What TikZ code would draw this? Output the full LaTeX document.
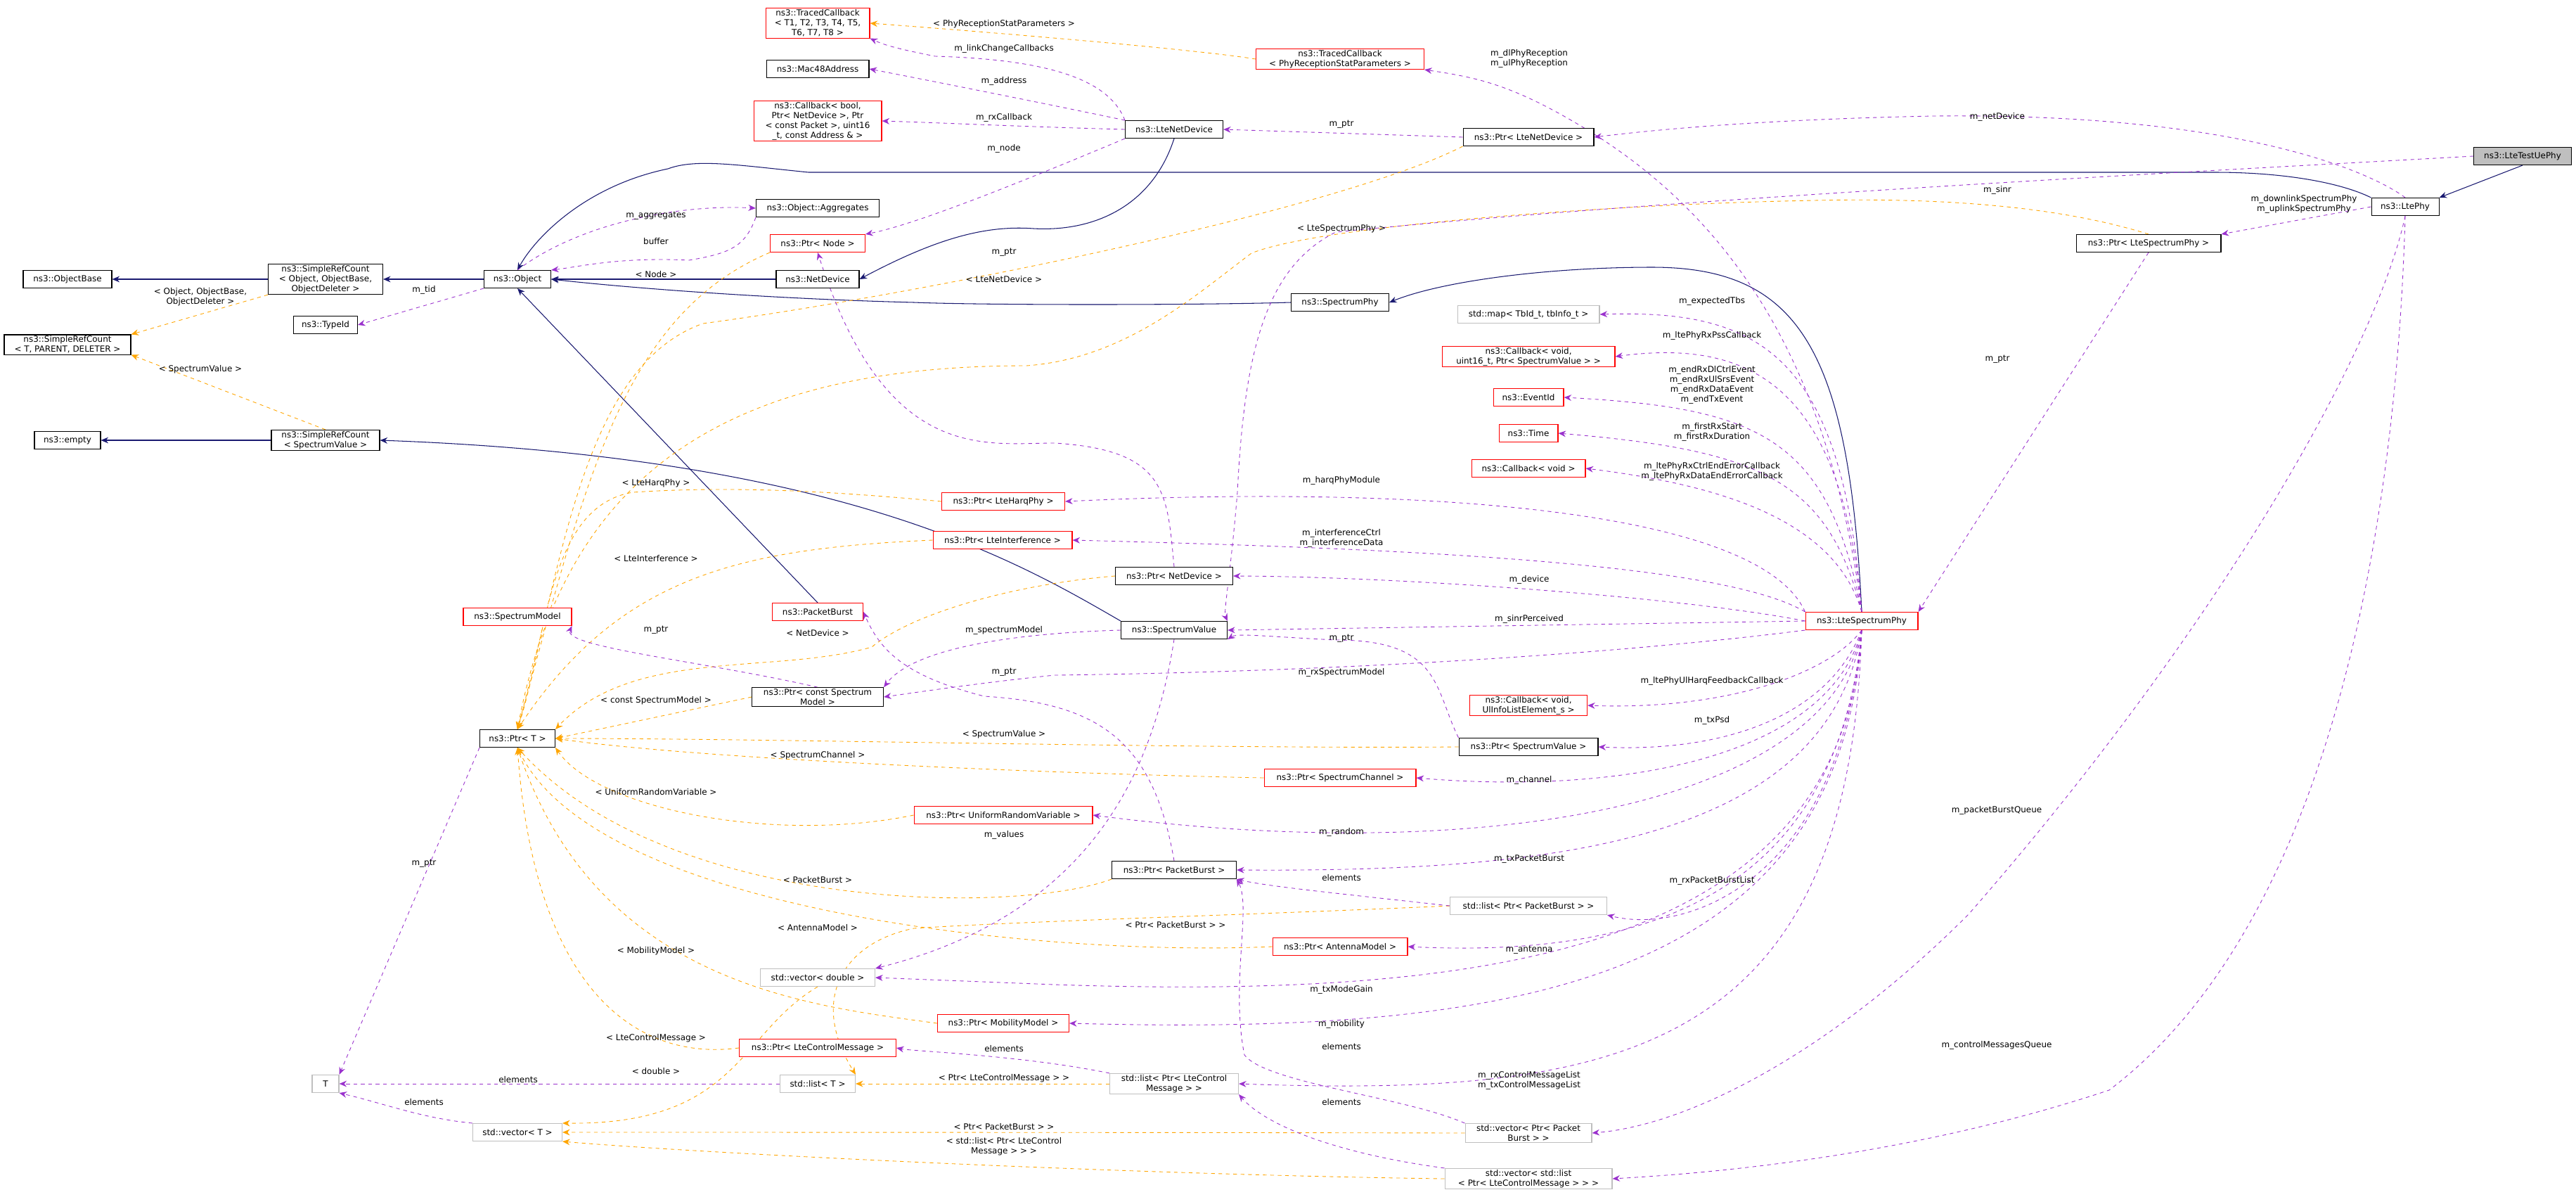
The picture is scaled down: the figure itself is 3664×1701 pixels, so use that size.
\documentclass[tikz,border=0pt]{standalone}
\usepackage{fontspec}
\setmainfont{DejaVu Sans}
\usetikzlibrary{arrows.meta,backgrounds}
\definecolor{navy}{HTML}{191970}
\definecolor{purp}{HTML}{9A32CD}
\definecolor{orng}{HTML}{FFA500}
\tikzset{
 bx/.style={draw=black,fill=white,font=\fontsize{6.8}{8}\selectfont,align=center,inner sep=1pt,minimum height=0.5cm,line width=0.6pt},
 rbx/.style={bx,draw=red},
 gbx/.style={bx,draw=black!25},
 lbl/.style={font=\fontsize{6.8}{8}\selectfont,align=center,inner sep=0pt},
 inh/.style={draw=navy,line width=0.6pt,-{Stealth[length=6pt,width=5pt]}},
 use/.style={draw=purp,dashed,line width=0.5pt,-{Stealth[length=6pt,width=5pt]}},
 tpl/.style={draw=orng,dashed,line width=0.5pt,-{Stealth[length=6pt,width=5pt]}},
}
\begin{document}
\begin{tikzpicture}[x=0.02cm,y=-0.02cm]
\useasboundingbox (0,0) rectangle (3664,1701);
% nodes
\node[rbx,minimum width=2.96cm] (ttc) at (1163,33) {ns3::TracedCallback\\< T1, T2, T3, T4, T5,\\ T6, T7, T8 >};
\node[bx,minimum width=2.92cm] (mac) at (1163,98) {ns3::Mac48Address};
\node[rbx,minimum width=3.64cm] (cbb) at (1163,172) {ns3::Callback< bool,\\ Ptr< NetDevice >, Ptr\\< const Packet >, uint16\\\_t, const Address \& >};
\node[bx,minimum width=3.5cm] (agg) at (1163,296) {ns3::Object::Aggregates};
\node[rbx,minimum width=2.7cm] (pnode) at (1163,346) {ns3::Ptr< Node >};
\node[bx,minimum width=2.36cm] (netdev) at (1163,397) {ns3::NetDevice};
\node[bx,minimum width=1.9cm] (obj) at (736,397) {ns3::Object};
\node[bx,minimum width=3.26cm] (src1) at (463,397) {ns3::SimpleRefCount\\< Object, ObjectBase,\\ ObjectDeleter >};
\node[bx,minimum width=2.52cm] (objbase) at (96,397) {ns3::ObjectBase};
\node[bx,minimum width=1.82cm] (typeid) at (463,462) {ns3::TypeId};
\node[bx,minimum width=3.6cm] (srct) at (96,490) {ns3::SimpleRefCount\\< T, PARENT, DELETER >};
\node[bx,minimum width=3.08cm] (srcsv) at (463,626) {ns3::SimpleRefCount\\< SpectrumValue >};
\node[bx,minimum width=1.88cm] (empty) at (96,626) {ns3::empty};
\node[rbx,minimum width=4.78cm] (tcprs) at (1906,84) {ns3::TracedCallback\\< PhyReceptionStatParameters >};
\node[bx,minimum width=2.78cm] (ltend) at (1670,184) {ns3::LteNetDevice};
\node[bx,minimum width=3.72cm] (pltend) at (2174,195) {ns3::Ptr< LteNetDevice >};
\node[bx,minimum width=1.92cm] (ltephy) at (3421,294) {ns3::LtePhy};
\node[bx,fill=black!25,minimum width=2.78cm] (testue) at (3588,222) {ns3::LteTestUePhy};
\node[bx,minimum width=4.12cm] (plsp) at (3056,346) {ns3::Ptr< LteSpectrumPhy >};
\node[bx,minimum width=2.78cm] (sphy) at (1906,430) {ns3::SpectrumPhy};
\node[gbx,minimum width=4.04cm] (map) at (2174,447) {std::map< TbId\_t, tbInfo\_t >};
\node[rbx,minimum width=4.92cm] (cbv) at (2174,507) {ns3::Callback< void,\\ uint16\_t, Ptr< SpectrumValue > >};
\node[rbx,minimum width=2cm] (evid) at (2174,565) {ns3::EventId};
\node[rbx,minimum width=1.68cm] (time) at (2174,616) {ns3::Time};
\node[rbx,minimum width=3.24cm] (cbvoid) at (2174,666) {ns3::Callback< void >};
\node[rbx,minimum width=3.5cm] (pharq) at (1427,713) {ns3::Ptr< LteHarqPhy >};
\node[rbx,minimum width=3.96cm] (pinterf) at (1426,768) {ns3::Ptr< LteInterference >};
\node[bx,minimum width=3.34cm] (pnd) at (1670,819) {ns3::Ptr< NetDevice >};
\node[bx,minimum width=3.02cm] (sv) at (1670,896) {ns3::SpectrumValue};
\node[rbx,minimum width=3.2cm] (lsp) at (2648,883) {ns3::LteSpectrumPhy};
\node[rbx,minimum width=3.08cm] (smodel) at (736,877) {ns3::SpectrumModel};
\node[rbx,minimum width=2.58cm] (pburst) at (1163,870) {ns3::PacketBurst};
\node[bx,minimum width=3.74cm] (pcsm) at (1163,991) {ns3::Ptr< const Spectrum\\ Model >};
\node[bx,minimum width=2.14cm] (ptrt) at (736,1050) {ns3::Ptr< T >};
\node[rbx,minimum width=3.34cm] (cbul) at (2174,1003) {ns3::Callback< void,\\ UlInfoListElement\_s >};
\node[bx,minimum width=3.96cm] (psv) at (2174,1062) {ns3::Ptr< SpectrumValue >};
\node[rbx,minimum width=4.32cm] (pschan) at (1906,1106) {ns3::Ptr< SpectrumChannel >};
\node[rbx,minimum width=5.08cm] (purv) at (1427,1159) {ns3::Ptr< UniformRandomVariable >};
\node[bx,minimum width=3.54cm] (ppb) at (1670,1237) {ns3::Ptr< PacketBurst >};
\node[gbx,minimum width=4.46cm] (lppb) at (2174,1288) {std::list< Ptr< PacketBurst > >};
\node[rbx,minimum width=3.84cm] (pant) at (1906,1346) {ns3::Ptr< AntennaModel >};
\node[gbx,minimum width=3.26cm] (vdbl) at (1163,1390) {std::vector< double >};
\node[rbx,minimum width=3.74cm] (pmob) at (1427,1455) {ns3::Ptr< MobilityModel >};
\node[rbx,minimum width=4.46cm] (plcm) at (1163,1490) {ns3::Ptr< LteControlMessage >};
\node[gbx,minimum width=3.66cm] (lplcm) at (1670,1541) {std::list< Ptr< LteControl\\ Message > >};
\node[gbx,minimum width=0.76cm] (T) at (463,1541) {T};
\node[gbx,minimum width=2.14cm] (listt) at (1163,1541) {std::list< T >};
\node[gbx,minimum width=3.6cm] (vppb) at (2174,1611) {std::vector< Ptr< Packet\\ Burst > >};
\node[gbx,minimum width=2.54cm] (vect) at (736,1610) {std::vector< T >};
\node[gbx,minimum width=4.76cm] (vlist) at (2174,1676) {std::vector< std::list\\< Ptr< LteControlMessage > > >};

\begin{pgfonlayer}{background}
% inheritance
\draw[inh] (src1) -- (objbase);
\draw[inh] (obj) -- (src1);
\draw[inh] (netdev) -- (obj);
\draw[inh] (ltend.south) .. controls (1640,290) and (1560,330) .. (1470,325) .. controls (1400,320) and (1330,340) .. (netdev.east);
\draw[inh] (ltephy.north west) .. controls (3330,260) and (3250,245) .. (3150,245) -- (1150,245) .. controls (1050,235) and (990,225) .. (950,240) .. controls (830,265) and (760,340) .. (obj.north);
\draw[inh] (sphy.west) .. controls (1700,434) and (1400,434) .. (1300,430) .. controls (1100,425) and (900,410) .. (obj.east);
\draw[inh] (lsp.north) .. controls (2630,500) and (2560,380) .. (2350,380) .. controls (2200,380) and (2050,400) .. (sphy.east);
\draw[inh] (pburst.north) -- (obj.south);
\draw[inh] (sv.north west) .. controls (1450,800) and (1200,650) .. (srcsv.east);
\draw[inh] (srcsv) -- (empty);
\draw[inh] (testue.south) -- (ltephy.north east);

% template edges
\draw[tpl] (src1.south west) -- (srct.north east);
\draw[tpl] (srcsv.north) -- (srct.south east);
\draw[tpl] (tcprs.west) .. controls (1700,70) and (1400,45) .. (ttc.east);
\draw[tpl] (pnode.south west) .. controls (880,450) and (830,700) .. (ptrt.north);
\draw[tpl] (pltend.south west) .. controls (1900,300) and (1300,420) .. (1000,460) .. controls (830,520) and (800,800) .. (ptrt.north);
\draw[tpl] (plsp.north) .. controls (2950,300) and (2800,280) .. (2580,285) .. controls (2300,290) and (1880,320) .. (1780,360) .. controls (1700,420) and (1600,510) .. (1460,520) .. controls (1000,520) and (800,700) .. (ptrt.north);
\draw[tpl] (pharq.west) .. controls (1200,700) and (1050,690) .. (900,700) .. controls (780,720) and (780,900) .. (ptrt.north);
\draw[tpl] (pinterf.west) .. controls (1050,780) and (880,820) .. (ptrt.north);
\draw[tpl] (pnd.west) .. controls (1450,830) and (1300,870) .. (1240,920) .. controls (1100,960) and (900,920) .. (ptrt.north east);
\draw[tpl] (pcsm.west) -- (ptrt.east);
\draw[tpl] (psv.west) .. controls (1700,1065) and (1100,1050) .. (ptrt.east);
\draw[tpl] (pschan.west) .. controls (1500,1100) and (1000,1080) .. (ptrt.east);
\draw[tpl] (purv.west) .. controls (1100,1200) and (850,1150) .. (ptrt.south east);
\draw[tpl] (ppb.south west) .. controls (1450,1300) and (950,1300) .. (ptrt.south);
\draw[tpl] (pant.west) .. controls (1500,1360) and (850,1300) .. (ptrt.south);
\draw[tpl] (pmob.west) .. controls (1150,1430) and (850,1400) .. (ptrt.south);
\draw[tpl] (plcm.west) .. controls (900,1510) and (760,1400) .. (ptrt.south);
\draw[tpl] (vdbl.south) .. controls (1050,1470) and (1050,1600) .. (vect.north east);
\draw[tpl] (lppb.west) .. controls (1800,1300) and (1450,1310) .. (1300,1320) .. controls (1200,1340) and (1150,1420) .. (listt.north east);
\draw[tpl] (lplcm.west) -- (listt.east);
\draw[tpl] (vppb.west) .. controls (1600,1610) and (1000,1610) .. (vect.east);
\draw[tpl] (vlist.west) .. controls (1600,1670) and (1000,1640) .. (vect.south east);

% usage edges
\draw[use] (ltend.north west) .. controls (1580,120) and (1510,85) .. (1330,80) .. controls (1280,70) and (1260,65) .. (ttc.south east);
\draw[use] (ltend.north west) .. controls (1500,150) and (1350,120) .. (mac.east);
\draw[use] (ltend.west) .. controls (1450,180) and (1350,175) .. (cbb.east);
\draw[use] (ltend.south west) .. controls (1450,260) and (1300,320) .. (pnode.north east);
\draw[use] (obj.north) .. controls (820,320) and (960,290) .. (agg.west);
\draw[use] (agg.south west) .. controls (1060,350) and (1040,360) .. (980,370) .. controls (880,365) and (820,380) .. (obj.north east);
\draw[use] (obj.south west) -- (typeid.east);
\draw[use] (pltend.west) -- (ltend.east);
\draw[use] (ltephy.north) .. controls (3380,250) and (3200,160) .. (2750,165) .. controls (2500,170) and (2350,185) .. (pltend.east);
\draw[use] (testue.west) .. controls (3200,240) and (2400,280) .. (1900,330) .. controls (1800,380) and (1770,500) .. (1760,700) .. controls (1750,820) and (1740,870) .. (sv.north east);
\draw[use] (ltephy.west) -- (plsp.north east);
\draw[use] (plsp.south) -- (lsp.north east);
\draw[use] (ltephy.south) .. controls (3380,500) and (3150,900) .. (2800,1300) .. controls (2600,1500) and (2400,1600) .. (vppb.east);
\draw[use] (ltephy.south) .. controls (3410,700) and (3330,1300) .. (3000,1550) .. controls (2700,1650) and (2400,1670) .. (vlist.east);
\draw[use] (lsp.north) .. controls (2600,500) and (2450,300) .. (2250,180) .. controls (2150,120) and (2100,110) .. (tcprs.south east);
\draw[use] (lsp.north) .. controls (2620,500) and (2500,440) .. (map.east);
\draw[use] (lsp.north) .. controls (2620,560) and (2500,480) .. (cbv.east);
\draw[use] (lsp.north) .. controls (2600,620) and (2500,580) .. (evid.east);
\draw[use] (lsp.north) .. controls (2600,680) and (2500,640) .. (time.east);
\draw[use] (lsp.north) .. controls (2610,740) and (2450,690) .. (cbvoid.east);
\draw[use] (lsp.north west) .. controls (2500,720) and (2000,690) .. (pharq.east);
\draw[use] (lsp.north west) .. controls (2450,800) and (2000,780) .. (pinterf.east);
\draw[use] (lsp.west) .. controls (2400,850) and (2000,820) .. (pnd.east);
\draw[use] (lsp.west) -- (sv.east);
\draw[use] (lsp.south west) .. controls (2300,930) and (1900,955) .. (1500,960) .. controls (1400,970) and (1300,985) .. (pcsm.east);
\draw[use] (lsp.south) .. controls (2600,960) and (2450,1010) .. (cbul.east);
\draw[use] (lsp.south) .. controls (2600,1020) and (2450,1070) .. (psv.east);
\draw[use] (lsp.south) .. controls (2600,1080) and (2300,1130) .. (pschan.east);
\draw[use] (lsp.south) .. controls (2600,1150) and (2100,1230) .. (purv.east);
\draw[use] (lsp.south) .. controls (2600,1200) and (2200,1240) .. (ppb.east);
\draw[use] (lsp.south) .. controls (2620,1250) and (2400,1330) .. (lppb.south east);
\draw[use] (lsp.south) .. controls (2610,1300) and (2300,1360) .. (pant.east);
\draw[use] (lsp.south) .. controls (2620,1360) and (2100,1420) .. (1500,1400) -- (vdbl.east);
\draw[use] (lsp.south) .. controls (2620,1420) and (2100,1470) .. (pmob.east);
\draw[use] (lsp.south) .. controls (2630,1500) and (2300,1560) .. (lplcm.east);
\draw[use] (pnd.north) .. controls (1660,700) and (1660,640) .. (1500,630) .. controls (1400,630) and (1260,660) .. (pnode.south);
\draw[use] (sv.west) .. controls (1450,900) and (1300,920) .. (pcsm.north east);
\draw[use] (pcsm.north) .. controls (1000,940) and (800,920) .. (smodel.south east);
\draw[use] (psv.north west) .. controls (2040,980) and (2050,910) .. (1900,910) .. controls (1800,905) and (1760,900) .. (sv.south east);
\draw[use] (sv.south) .. controls (1640,1100) and (1550,1300) .. (vdbl.north east);
\draw[use] (ppb.north) .. controls (1640,1050) and (1560,1000) .. (1400,990) .. controls (1280,960) and (1250,920) .. (pburst.east);
\draw[use] (lppb.west) .. controls (1900,1270) and (1800,1260) .. (ppb.south east);
\draw[use] (vppb.north west) .. controls (2000,1560) and (1800,1540) .. (1770,1500) .. controls (1750,1400) and (1780,1290) .. (ppb.south east);
\draw[use] (lplcm.north west) .. controls (1450,1500) and (1300,1495) .. (plcm.east);
\draw[use] (vlist.north west) .. controls (1900,1640) and (1800,1600) .. (lplcm.south east);
\draw[use] (ptrt.south west) -- (T.north east);
\draw[use] (listt.west) -- (T.east);
\draw[use] (vect.north west) .. controls (600,1590) and (550,1570) .. (T.south east);
\end{pgfonlayer}

% labels
\node[lbl] (l1) at (1428,34) {< PhyReceptionStatParameters >};
\node[lbl] (l2) at (1428,69) {m\_linkChangeCallbacks};
\node[lbl] (l3) at (1428,115) {m\_address};
\node[lbl] (l4) at (1428,167) {m\_rxCallback};
\node[lbl] (l5) at (1428,211) {m\_node};
\node[lbl] (l6) at (1908,177) {m\_ptr};
\node[lbl] (l7) at (2175,83) {m\_dlPhyReception\\m\_ulPhyReception};
\node[lbl] (l8) at (1908,325) {< LteSpectrumPhy >};
\node[lbl] (l9) at (1428,359) {m\_ptr};
\node[lbl] (l10) at (1428,397) {< LteNetDevice >};
\node[lbl] (l11) at (2435,428) {m\_expectedTbs};
\node[lbl] (l12) at (2435,477) {m\_ltePhyRxPssCallback};
\node[lbl] (l13) at (2435,547) {m\_endRxDlCtrlEvent\\m\_endRxUlSrsEvent\\m\_endRxDataEvent\\m\_endTxEvent};
\node[lbl] (l14) at (2435,614) {m\_firstRxStart\\m\_firstRxDuration};
\node[lbl] (l15) at (2435,670) {m\_ltePhyRxCtrlEndErrorCallback\\m\_ltePhyRxDataEndErrorCallback};
\node[lbl] (l16) at (1908,683) {m\_harqPhyModule};
\node[lbl] (l17) at (2841,166) {m\_netDevice};
\node[lbl] (l18) at (2841,270) {m\_sinr};
\node[lbl] (l19) at (3277,290) {m\_downlinkSpectrumPhy\\m\_uplinkSpectrumPhy};
\node[lbl] (l20) at (2841,511) {m\_ptr};
\node[lbl] (l21) at (2840,1152) {m\_packetBurstQueue};
\node[lbl] (l22) at (2840,1486) {m\_controlMessagesQueue};
\node[lbl] (l23) at (933,307) {m\_aggregates};
\node[lbl] (l24) at (933,343) {buffer};
\node[lbl] (l25) at (933,390) {< Node >};
\node[lbl] (l26) at (603,412) {m\_tid};
\node[lbl] (l27) at (285,422) {< Object, ObjectBase,\\ObjectDeleter >};
\node[lbl] (l28) at (285,525) {< SpectrumValue >};
\node[lbl] (l29) at (933,687) {< LteHarqPhy >};
\node[lbl] (l30) at (933,794) {< LteInterference >};
\node[lbl] (l31) at (933,896) {m\_ptr};
\node[lbl] (l32) at (1163,900) {< NetDevice >};
\node[lbl] (l33) at (933,996) {< const SpectrumModel >};
\node[lbl] (l34) at (1163,1074) {< SpectrumChannel >};
\node[lbl] (l35) at (933,1126) {< UniformRandomVariable >};
\node[lbl] (l36) at (603,1228) {m\_ptr};
\node[lbl] (l37) at (1163,1251) {< PacketBurst >};
\node[lbl] (l38) at (1163,1319) {< AntennaModel >};
\node[lbl] (l39) at (933,1352) {< MobilityModel >};
\node[lbl] (l40) at (933,1476) {< LteControlMessage >};
\node[lbl] (l41) at (933,1523) {< double >};
\node[lbl] (l42) at (737,1535) {elements};
\node[lbl] (l43) at (603,1567) {elements};
\node[lbl] (l44) at (1908,765) {m\_interferenceCtrl\\m\_interferenceData};
\node[lbl] (l45) at (2175,824) {m\_device};
\node[lbl] (l46) at (2175,880) {m\_sinrPerceived};
\node[lbl] (l47) at (1908,908) {m\_ptr};
\node[lbl] (l48) at (1428,896) {m\_spectrumModel};
\node[lbl] (l49) at (1908,956) {m\_rxSpectrumModel};
\node[lbl] (l50) at (1428,956) {m\_ptr};
\node[lbl] (l51) at (2435,968) {m\_ltePhyUlHarqFeedbackCallback};
\node[lbl] (l52) at (2435,1024) {m\_txPsd};
\node[lbl] (l53) at (1428,1044) {< SpectrumValue >};
\node[lbl] (l54) at (2175,1109) {m\_channel};
\node[lbl] (l55) at (1908,1183) {m\_random};
\node[lbl] (l56) at (1428,1187) {m\_values};
\node[lbl] (l57) at (2175,1221) {m\_txPacketBurst};
\node[lbl] (l58) at (1908,1248) {elements};
\node[lbl] (l59) at (2435,1252) {m\_rxPacketBurstList};
\node[lbl] (l60) at (1672,1315) {< Ptr< PacketBurst > >};
\node[lbl] (l61) at (2175,1351) {m\_antenna};
\node[lbl] (l62) at (1908,1407) {m\_txModeGain};
\node[lbl] (l63) at (1908,1456) {m\_mobility};
\node[lbl] (l64) at (1428,1491) {elements};
\node[lbl] (l65) at (1908,1488) {elements};
\node[lbl] (l66) at (2175,1536) {m\_rxControlMessageList\\m\_txControlMessageList};
\node[lbl] (l67) at (1428,1533) {< Ptr< LteControlMessage > >};
\node[lbl] (l68) at (1908,1567) {elements};
\node[lbl] (l69) at (1428,1602) {< Ptr< PacketBurst > >};
\node[lbl] (l70) at (1428,1630) {< std::list< Ptr< LteControl\\Message > > >};
\end{tikzpicture}
\end{document}
